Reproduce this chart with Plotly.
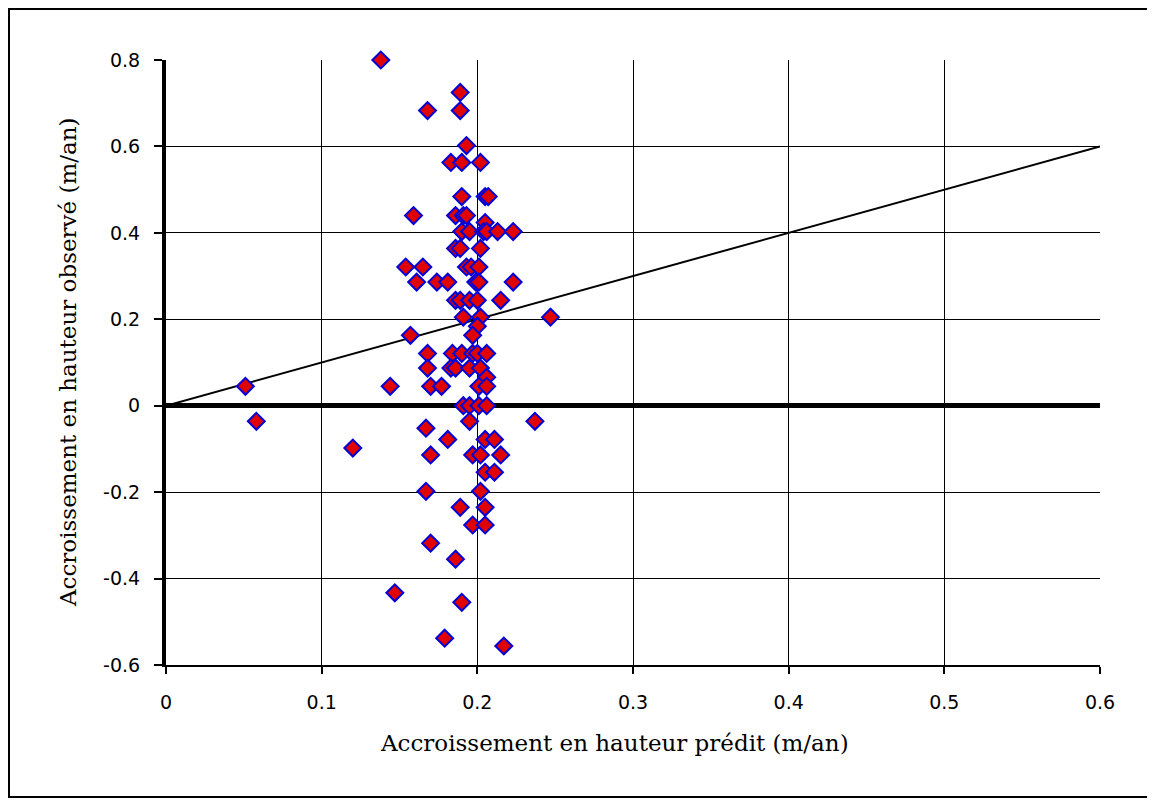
import plotly.graph_objects as go

# predicted vs observed height growth (m/an)
predit = [0.138, 0.189, 0.168, 0.189, 0.193, 0.183, 0.190, 0.202, 0.190, 0.205,
          0.207, 0.159, 0.186, 0.191, 0.193, 0.205, 0.190, 0.195, 0.204, 0.206,
          0.213, 0.223, 0.186, 0.189, 0.202, 0.154, 0.165, 0.193, 0.196, 0.201,
          0.161, 0.174, 0.181, 0.199, 0.201, 0.223, 0.186, 0.189, 0.195, 0.200,
          0.215, 0.191, 0.202, 0.247, 0.200, 0.197, 0.157, 0.168, 0.184, 0.190,
          0.197, 0.200, 0.206, 0.168, 0.183, 0.186, 0.195, 0.202, 0.206, 0.051,
          0.144, 0.170, 0.177, 0.201, 0.206, 0.191, 0.195, 0.201, 0.206, 0.195,
          0.058, 0.237, 0.167, 0.181, 0.205, 0.211, 0.120, 0.170, 0.197, 0.202,
          0.215, 0.205, 0.211, 0.167, 0.202, 0.189, 0.205, 0.197, 0.205, 0.170,
          0.186, 0.147, 0.190, 0.179, 0.217]
observe = [0.800, 0.725, 0.683, 0.683, 0.602, 0.563, 0.563, 0.563, 0.484, 0.484,
           0.484, 0.440, 0.440, 0.440, 0.440, 0.424, 0.403, 0.403, 0.403, 0.403,
           0.403, 0.403, 0.364, 0.364, 0.364, 0.321, 0.321, 0.321, 0.321, 0.321,
           0.286, 0.286, 0.286, 0.286, 0.286, 0.286, 0.244, 0.244, 0.244, 0.244,
           0.244, 0.205, 0.205, 0.205, 0.184, 0.163, 0.163, 0.121, 0.121, 0.121,
           0.121, 0.121, 0.121, 0.087, 0.087, 0.087, 0.087, 0.087, 0.066, 0.045,
           0.045, 0.045, 0.045, 0.045, 0.045, 0.0, 0.0, 0.0, 0.0, -0.036,
           -0.036, -0.036, -0.052, -0.078, -0.078, -0.078, -0.098, -0.114, -0.114, -0.114,
           -0.114, -0.154, -0.154, -0.198, -0.198, -0.235, -0.235, -0.276, -0.276, -0.318,
           -0.355, -0.433, -0.455, -0.538, -0.556]

ligne_x = [0, 0.6]
ligne_y = [0, 0.6]

x_ticks = [0, 0.1, 0.2, 0.3, 0.4, 0.5, 0.6]
x_labels = ['0', '0.1', '0.2', '0.3', '0.4', '0.5', '0.6']
y_ticks = [-0.6, -0.4, -0.2, 0, 0.2, 0.4, 0.6, 0.8]
y_labels = ['-0.6', '-0.4', '-0.2', '0', '0.2', '0.4', '0.6', '0.8']

fig = go.Figure()
fig.add_trace(go.Scatter(x=ligne_x, y=ligne_y, mode='lines',
                         line=dict(color='black', width=2), hoverinfo='skip'))
fig.add_trace(go.Scatter(x=predit, y=observe, mode='markers', cliponaxis=False,
                         marker=dict(symbol='diamond', size=13, color='#e00000',
                                     line=dict(color='#0000d8', width=2))))

num_font = dict(family='DejaVu Sans', size=19, color='black')
titre_font = dict(family='DejaVu Serif', size=23, color='black')

fig.update_xaxes(range=[0, 0.6], tickvals=x_ticks, ticktext=x_labels,
                 showgrid=True, gridcolor='black', gridwidth=1,
                 zeroline=False, showline=True, linecolor='black', linewidth=2,
                 ticks='outside', ticklen=7, tickwidth=2, tickcolor='black',
                 ticklabelstandoff=12, tickfont=num_font)
fig.update_yaxes(range=[-0.6, 0.8], tickvals=y_ticks, ticktext=y_labels,
                 showgrid=True, gridcolor='black', gridwidth=1,
                 zeroline=True, zerolinecolor='black', zerolinewidth=5,
                 showline=True, linecolor='black', linewidth=4,
                 ticks='outside', ticklen=8, tickwidth=2, tickcolor='black',
                 ticklabelstandoff=10, tickfont=num_font)

# axis titles as annotations (placed like the original)
fig.add_annotation(text='Accroissement en hauteur prédit (m/an)', xref='paper', yref='paper',
                   x=0.4807, y=-0.129, xanchor='center', yanchor='middle',
                   showarrow=False, font=titre_font)
fig.add_annotation(text='Accroissement en hauteur observé (m/an)', xref='paper', yref='paper',
                   x=-0.1049, y=0.5008, xanchor='center', yanchor='middle', textangle=-90,
                   showarrow=False, font=titre_font)

fig.add_shape(type='rect', xref='paper', yref='paper',
              x0=-0.1681, x1=1.0557, y0=-0.2182, y1=1.0843,
              line=dict(color='black', width=2))

fig.update_layout(width=1147, height=792, showlegend=False,
                  plot_bgcolor='white', paper_bgcolor='white',
                  margin=dict(l=158, r=55, t=52, b=135))

fig.write_html('out.html')
